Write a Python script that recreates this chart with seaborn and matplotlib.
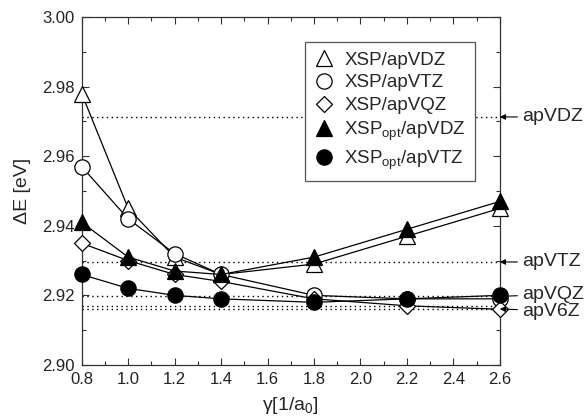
import matplotlib
matplotlib.use("Agg")
import matplotlib.pyplot as plt
import seaborn as sns
import numpy as np
import pandas as pd

gamma = [0.8, 1.0, 1.2, 1.4, 1.8, 2.2, 2.6]
xsp_apvdz = [2.978, 2.945, 2.931, 2.926, 2.929, 2.937, 2.945]
xsp_apvtz = [2.957, 2.942, 2.932, 2.926, 2.920, 2.919, 2.919]
xsp_apvqz = [2.935, 2.930, 2.926, 2.924, 2.919, 2.917, 2.916]
xspopt_apvdz = [2.941, 2.931, 2.927, 2.926, 2.931, 2.939, 2.947]
xspopt_apvtz = [2.926, 2.922, 2.920, 2.919, 2.918, 2.919, 2.920]

ref_labels = ["apVDZ", "apVTZ", "apVQZ", "", "apV6Z"]
ref_values = [2.9713, 2.9296, 2.9197, 2.9170, 2.9161]

xticks = [0.8, 1.0, 1.2, 1.4, 1.6, 1.8, 2.0, 2.2, 2.4, 2.6]
yticks = [2.90, 2.92, 2.94, 2.96, 2.98, 3.00]

sns.set_style("ticks")
plt.rcParams['font.family'] = ['Liberation Sans', 'DejaVu Sans']
plt.rcParams['mathtext.fontset'] = 'custom'
plt.rcParams['mathtext.rm'] = 'Liberation Sans'
plt.rcParams['mathtext.it'] = 'Liberation Sans:italic'

fig = plt.figure(figsize=(5.88, 4.18), dpi=100)
ax = fig.add_axes([0.139, 0.127, 0.711, 0.832])

series = [
    (r"XSP/apVDZ", xsp_apvdz, "^", "white", 11),
    (r"XSP/apVTZ", xsp_apvtz, "o", "white", 11),
    (r"XSP/apVQZ", xsp_apvqz, "D", "white", 8),
    (r"XSP$_{\rm opt}$/apVDZ", xspopt_apvdz, "^", "black", 11),
    (r"XSP$_{\rm opt}$/apVTZ", xspopt_apvtz, "o", "black", 11),
]

for v in ref_values:
    ax.axhline(v, color="black", lw=1.0, ls=(0, (1, 2.5)), zorder=1)

for label, ys, m, fc, ms in series:
    df = pd.DataFrame({"x": gamma, "y": ys})
    sns.lineplot(data=df, x="x", y="y", ax=ax, color="black", lw=0.9,
                 marker=m, markersize=ms, markerfacecolor=fc,
                 markeredgecolor="black", markeredgewidth=0.9,
                 label=label, zorder=3, clip_on=False)

ax.set_xlim(0.8, 2.6)
ax.set_ylim(2.90, 3.00)
ax.set_xticks(xticks)
ax.set_xticklabels([f"{t:.1f}" for t in xticks])
ax.set_yticks(yticks)
ax.set_yticklabels([f"{t:.2f}" for t in yticks])
ax.set_xticks(np.arange(0.9, 2.6, 0.2), minor=True)
ax.set_yticks(np.arange(2.91, 3.0, 0.02), minor=True)
ax.tick_params(which="both", direction="in", top=True, right=True,
               colors="#333333", labelcolor="#222222", labelsize=12, width=0.8,
               pad=5)
ax.tick_params(which="major", length=5)
ax.tick_params(which="minor", length=3)
for s in ax.spines.values():
    s.set_color("#333333")
    s.set_linewidth(0.9)
    s.set_visible(True)

ax.set_xlabel(r"γ[1/a$_{\rm 0}$]", fontsize=14, labelpad=6)
ax.set_ylabel("ΔE [eV]", fontsize=14, labelpad=8)

offsets = {"apVDZ": 0, "apVTZ": 0, "apVQZ": 1.5, "apV6Z": -1.5}
for lab, v in zip(ref_labels, ref_values):
    if not lab:
        continue
    ax.annotate(lab, xy=(2.6, v), xytext=(16, offsets[lab]), textcoords="offset points",
                fontsize=14, va="center", ha="left", annotation_clip=False,
                arrowprops=dict(arrowstyle="-|>", color="black", lw=0.8,
                                mutation_scale=8, shrinkA=1, shrinkB=0))

leg = ax.legend(loc="upper left", bbox_to_anchor=(0.534, 0.928), fontsize=13.5,
                frameon=True, fancybox=False, edgecolor="#555555",
                handlelength=1.0, handletextpad=0.6, labelspacing=0.3,
                borderpad=0.5, borderaxespad=0, framealpha=1)
leg.get_frame().set_linewidth(0.9)
for h in leg.legend_handles:
    h.set_linestyle("none")
leg.set_zorder(5)

fig.savefig("out.png", dpi=100)
